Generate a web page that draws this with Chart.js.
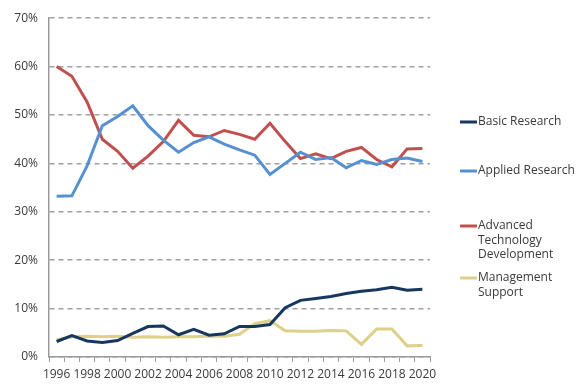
<!DOCTYPE html>
<html>
<head>
<meta charset="utf-8">
<script src="https://cdn.jsdelivr.net/npm/chart.js@4"></script>
<style>
  body { margin: 0; background: #fff; }
  #wrap { width: 576px; height: 388px; }
</style>
</head>
<body>
<div id="wrap"><canvas id="myChart" width="576" height="388"></canvas></div>
<script>
const years = ["1996","1997","1998","1999","2000","2001","2002","2003","2004","2005","2006","2007","2008",
  "2009","2010","2011","2012","2013","2014","2015","2016","2017","2018","2019","2020"];

// share of funding, percent
const basicResearch = [3.2, 4.4, 3.3, 3.0, 3.4, 4.9, 6.3, 6.4, 4.6, 5.7, 4.5, 4.8, 6.3,
  6.3, 6.7, 10.2, 11.7, 12.1, 12.5, 13.1, 13.6, 13.9, 14.4, 13.8, 14.0];
const appliedResearch = [33.2, 33.3, 39.5, 47.8, 49.7, 51.9, 47.8, 44.8, 42.3, 44.3, 45.5, 44.0, 42.8,
  41.7, 37.7, 40.0, 42.3, 40.8, 41.2, 39.1, 40.6, 39.8, 40.8, 41.1, 40.4];
const advancedTech = [60.0, 58.0, 52.7, 45.0, 42.5, 39.0, 41.5, 44.5, 48.9, 45.8, 45.5, 46.8, 46.0,
  45.0, 48.3, 44.5, 41.0, 42.0, 41.0, 42.5, 43.3, 40.8, 39.3, 43.0, 43.1];
const managementSupport = [3.5, 4.2, 4.3, 4.2, 4.3, 4.1, 4.2, 4.1, 4.2, 4.2, 4.3, 4.3, 4.7,
  6.9, 7.5, 5.4, 5.3, 5.3, 5.5, 5.4, 2.6, 5.8, 5.8, 2.3, 2.4];

const seriesNames = [
  ["Basic Research"],
  ["Applied Research"],
  ["Advanced", "Technology", "Development"],
  ["Management", "Support"],
];
const seriesColors = ["#17375e", "#5590d0", "#c0504d", "#ddd08a"];

Chart.defaults.font.family = "'Open Sans', 'Liberation Sans', sans-serif";
Chart.defaults.font.size = 12;
Chart.defaults.color = "#3a3a3a";

// legend drawn at the right, spaced like the original
const sideLegend = {
  id: "sideLegend",
  afterDraw(chart) {
    const ctx = chart.ctx;
    const rowY = [122, 171, 226, 278];
    ctx.save();
    ctx.font = "12px 'Open Sans', 'Liberation Sans', sans-serif";
    ctx.fillStyle = "#3a3a3a";
    ctx.textBaseline = "middle";
    seriesNames.forEach((lines, i) => {
      ctx.strokeStyle = seriesColors[i];
      ctx.lineWidth = 3;
      ctx.beginPath();
      ctx.moveTo(460, rowY[i]);
      ctx.lineTo(477, rowY[i]);
      ctx.stroke();
      lines.forEach((t, j) => ctx.fillText(t, 478, rowY[i] + j * 14.5));
    });
    ctx.restore();
  },
};

const chart = new Chart(document.getElementById("myChart"), {
  type: "line",
  data: {
    labels: years,
    datasets: [basicResearch, appliedResearch, advancedTech, managementSupport].map((d, i) => ({
      label: seriesNames[i].join(" "),
      data: d,
      borderColor: seriesColors[i],
      backgroundColor: seriesColors[i],
      borderWidth: 3,
      pointRadius: 0,
      tension: 0,
    })),
  },
  options: {
    responsive: false,
    animation: false,
    layout: { padding: { top: 17, right: 146, left: 0, bottom: 0 } },
    plugins: { legend: { display: false }, tooltip: { enabled: false } },
    scales: {
      x: {
        offset: true,
        grid: { offset: true, drawOnChartArea: false, color: "#9a9a9a", tickLength: 5, tickColor: "#9a9a9a" },
        border: { color: "#9a9a9a", width: 1.5 },
        ticks: {
          autoSkip: false,
          maxRotation: 0,
          padding: 5,
          callback: function (v, i) { return i % 2 === 0 ? this.getLabelForValue(v) : ""; },
        },
        afterFit: (s) => { s.height = 31; },
      },
      y: {
        min: 0,
        max: 70,
        ticks: { stepSize: 10, padding: 11, callback: (v) => v + "%" },
        grid: { color: "#a0a0a0", lineWidth: 1.5, drawTicks: false },
        border: { color: "#9a9a9a", width: 1.5, dash: [5, 4] },
        afterFit: (s) => { s.width = 49; },
      },
    },
  },
  plugins: [sideLegend],
});
</script>
</body>
</html>
